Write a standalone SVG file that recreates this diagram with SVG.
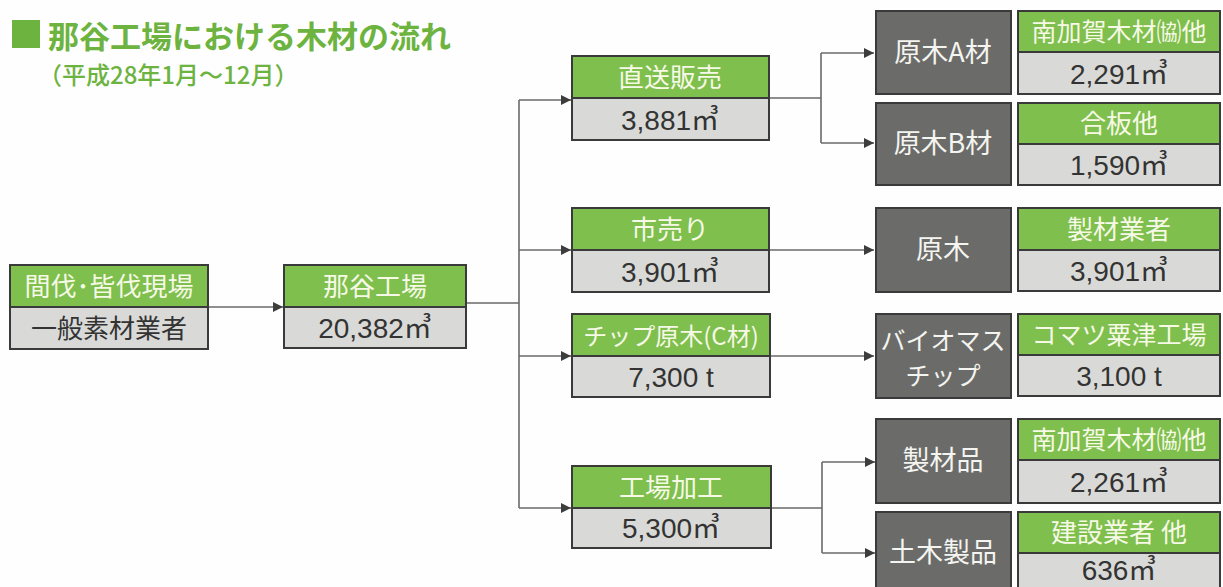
<svg xmlns="http://www.w3.org/2000/svg" width="1223" height="587" viewBox="0 0 1223 587">
<defs>
<marker id="arr" viewBox="0 0 10 10" refX="10" refY="5" markerWidth="12" markerHeight="10" markerUnits="userSpaceOnUse" orient="auto">
<path d="M0,0 L10,5 L0,10 z" fill="#3d3d3d"/>
</marker>
<style>
text{font-family:"Noto Sans CJK JP","Noto Sans",sans-serif;text-anchor:middle;}
.g{fill:#7fbf4d;stroke:#3a3a3a;stroke-width:2;}
.l{fill:#d9dad7;stroke:#3a3a3a;stroke-width:2;}
.d{fill:#6b6c69;stroke:#3a3a3a;stroke-width:2;}
.tg{fill:#f6f9e6;font-size:26px;}
.tl{fill:#333333;font-size:26px;}
.tv{fill:#333333;font-size:28px;font-family:"Liberation Sans","Noto Sans CJK JP",sans-serif;}
.td{fill:#f4f4f0;font-size:27px;}
.c{fill:none;stroke:#6a6a6a;stroke-width:1.6;}
</style>
</defs>
<rect width="1223" height="587" fill="#fefefe"/>
<g id="title">
<rect x="12" y="20" width="28" height="28" fill="#6db33f"/>
<text x="48" y="48" style="text-anchor:start;font-size:31px;font-weight:bold;fill:#6db33f;">那谷工場における木材の流れ</text>
<text x="38" y="84" style="text-anchor:start;font-size:24px;font-weight:500;fill:#6db33f;">（平成28年1月～12月）</text>
</g>
<g id="connectors">
<path class="c" d="M208,307 H283" marker-end="url(#arr)"/>
<path class="c" d="M466,303 H519 M519,100 V508"/>
<path class="c" d="M519,100 H571" marker-end="url(#arr)"/>
<path class="c" d="M519,250 H571" marker-end="url(#arr)"/>
<path class="c" d="M519,356 H571" marker-end="url(#arr)"/>
<path class="c" d="M519,508 H571" marker-end="url(#arr)"/>
<path class="c" d="M769,98 H821 M821,53 V143"/>
<path class="c" d="M821,53 H874" marker-end="url(#arr)"/>
<path class="c" d="M821,143 H874" marker-end="url(#arr)"/>
<path class="c" d="M769,250 H874" marker-end="url(#arr)"/>
<path class="c" d="M769,356 H874" marker-end="url(#arr)"/>
<path class="c" d="M771,508 H822 M822,462 V553"/>
<path class="c" d="M822,462 H875" marker-end="url(#arr)"/>
<path class="c" d="M822,553 H875" marker-end="url(#arr)"/>
</g>
<g id="n-kanbatsu">
<rect class="g" x="10" y="265" width="198" height="42"/>
<rect class="l" x="10" y="307" width="198" height="42"/>
<text class="tg" x="109" y="296">間伐･皆伐現場</text>
<text class="tl" x="109" y="338">一般素材業者</text>
</g>
<g id="n-natani">
<rect class="g" x="284" y="265" width="182" height="42"/>
<rect class="l" x="284" y="307" width="182" height="41"/>
<text class="tg" x="375" y="296">那谷工場</text>
<text class="tv" x="375" y="338">20,382㎥</text>
</g>
<g id="n-chokusou">
<rect class="g" x="572" y="56" width="197" height="42"/>
<rect class="l" x="572" y="98" width="197" height="42"/>
<text class="tg" x="670" y="87">直送販売</text>
<text class="tv" x="670" y="130">3,881㎥</text>
</g>
<g id="n-ichiuri">
<rect class="g" x="572" y="208" width="197" height="42"/>
<rect class="l" x="572" y="250" width="197" height="42"/>
<text class="tg" x="670" y="239">市売り</text>
<text class="tv" x="670" y="282">3,901㎥</text>
</g>
<g id="n-chip">
<rect class="g" x="572" y="314" width="198" height="42"/>
<rect class="l" x="572" y="356" width="198" height="41"/>
<text class="tg" x="671" y="345" style="font-size:24px">チップ原木(C材)</text>
<text class="tv" x="671" y="387">7,300 t</text>
</g>
<g id="n-kojo">
<rect class="g" x="572" y="466" width="199" height="42"/>
<rect class="l" x="572" y="508" width="199" height="40"/>
<text class="tg" x="671" y="497">工場加工</text>
<text class="tv" x="671" y="538">5,300㎥</text>
</g>
<g id="n-genbokuA">
<rect class="d" x="876" y="11" width="135" height="83"/>
<text class="td" x="943" y="62">原木A材</text>
</g>
<g id="n-genbokuB">
<rect class="d" x="876" y="103" width="135" height="82"/>
<text class="td" x="943" y="153">原木B材</text>
</g>
<g id="n-genboku">
<rect class="d" x="876" y="208" width="135" height="84"/>
<text class="td" x="943" y="259">原木</text>
</g>
<g id="n-biomass">
<rect class="d" x="876" y="314" width="135" height="84"/>
<text class="td" x="943" y="350" style="font-size:25px">バイオマス</text>
<text class="td" x="943" y="385" style="font-size:25px">チップ</text>
</g>
<g id="n-seizaihin">
<rect class="d" x="876" y="419" width="135" height="84"/>
<text class="td" x="943" y="470">製材品</text>
</g>
<g id="n-doboku">
<rect class="d" x="876" y="512" width="135" height="84"/>
<text class="td" x="943" y="562">土木製品</text>
</g>
<g id="n-minamikaga1">
<rect class="g" x="1018" y="11" width="202" height="41"/>
<rect class="l" x="1018" y="52" width="202" height="42"/>
<text class="tg" x="1119" y="41" style="font-size:25px">南加賀木材㈿他</text>
<text class="tv" x="1119" y="84">2,291㎥</text>
</g>
<g id="n-gohan">
<rect class="g" x="1018" y="103" width="202" height="41"/>
<rect class="l" x="1018" y="144" width="202" height="41"/>
<text class="tg" x="1119" y="133">合板他</text>
<text class="tv" x="1119" y="175">1,590㎥</text>
</g>
<g id="n-seizaigyosha">
<rect class="g" x="1018" y="208" width="202" height="42"/>
<rect class="l" x="1018" y="250" width="202" height="41"/>
<text class="tg" x="1119" y="239">製材業者</text>
<text class="tv" x="1119" y="281">3,901㎥</text>
</g>
<g id="n-komatsu">
<rect class="g" x="1018" y="314" width="202" height="41"/>
<rect class="l" x="1018" y="355" width="202" height="41"/>
<text class="tg" x="1119" y="344" style="font-size:25px">コマツ粟津工場</text>
<text class="tv" x="1119" y="386">3,100 t</text>
</g>
<g id="n-minamikaga2">
<rect class="g" x="1018" y="419" width="202" height="41"/>
<rect class="l" x="1018" y="460" width="202" height="43"/>
<text class="tg" x="1119" y="449" style="font-size:25px">南加賀木材㈿他</text>
<text class="tv" x="1119" y="492">2,261㎥</text>
</g>
<g id="n-kensetsu">
<rect class="g" x="1018" y="512" width="202" height="41"/>
<rect class="l" x="1018" y="553" width="202" height="42"/>
<text class="tg" x="1119" y="542">建設業者 他</text>
<text class="tv" x="1119" y="580">636㎥</text>
</g>
</svg>
